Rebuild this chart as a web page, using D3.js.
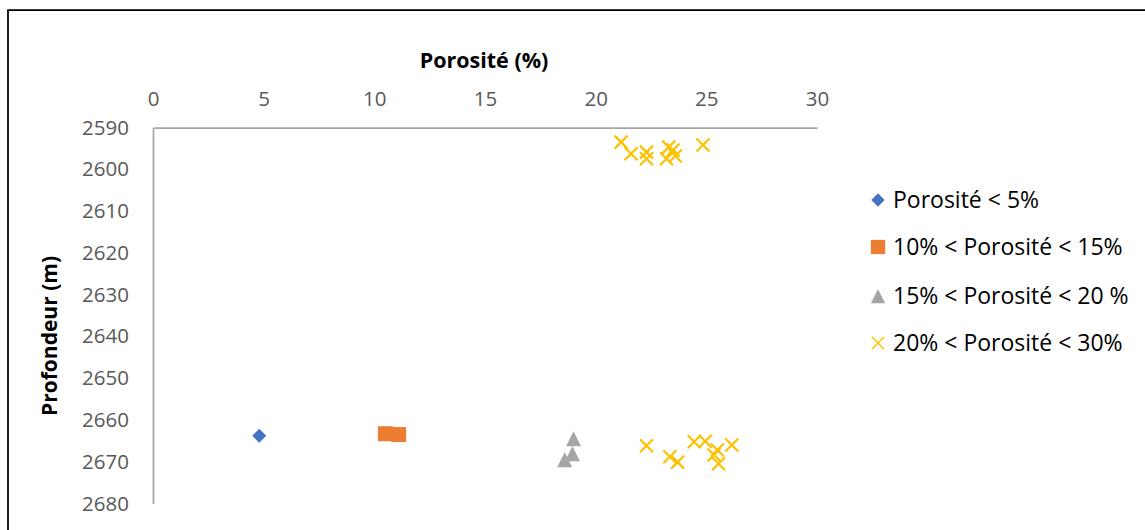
<!DOCTYPE html>
<html>
<head>
<meta charset="utf-8">
<script src="https://cdn.jsdelivr.net/npm/d3@7"></script>
<style>
  html, body { margin: 0; padding: 0; background: #fff; }
  svg { display: block; }
</style>
</head>
<body>
<svg id="chart" width="1145" height="530"></svg>
<script>
// ---- Data ----
const xTicks = [0, 5, 10, 15, 20, 25, 30];
const yTicks = [2590, 2600, 2610, 2620, 2630, 2640, 2650, 2660, 2670, 2680];

const seriesNames = ["Porosité < 5%", "10% < Porosité < 15%", "15% < Porosité < 20 %", "20% < Porosité < 30%"];
const seriesColors = ["#4472C4", "#ED7D31", "#A5A5A5", "#FFC000"];
const seriesShapes = ["diamond", "square", "triangle", "x"];

// [porosity %, depth m]
const s1 = [[4.8, 2663.8]];
const s2 = [[10.5, 2663.3], [11.1, 2663.5]];
const s3 = [[19.0, 2664.5], [18.95, 2668.1], [18.6, 2669.5]];
const s4 = [
  [21.15, 2593.5], [21.6, 2596.3], [22.3, 2595.9], [22.3, 2597.5],
  [23.3, 2594.7], [23.5, 2595.4], [23.2, 2597.5], [23.6, 2596.8], [24.85, 2594.2],
  [22.3, 2666.2], [23.35, 2668.8], [23.7, 2670.1], [24.45, 2665.2], [24.95, 2665.1],
  [25.5, 2667.2], [25.35, 2668.4], [25.55, 2670.5], [26.15, 2666.0]
];
const seriesData = [s1, s2, s3, s4];

// ---- Layout ----
const svg = d3.select("#chart");
const x = d3.scaleLinear().domain([0, 30]).range([153, 817]);
const y = d3.scaleLinear().domain([2590, 2680]).range([127.5, 503.5]);

const FONT = "'Open Sans', 'DejaVu Sans', sans-serif";

// outer chart border (left + top visible)
svg.append("path")
  .attr("d", "M8,540 L8,10 L1150,10")
  .attr("fill", "none").attr("stroke", "#000").attr("stroke-width", 1.75);

// axes
const xAxis = d3.axisTop(x).tickValues(xTicks).tickFormat(d3.format("d")).tickSize(0).tickPadding(22);
const yAxis = d3.axisLeft(y).tickValues(yTicks).tickFormat(d3.format("d")).tickSize(0).tickPadding(24);

const gx = svg.append("g").attr("transform", `translate(0,${y(2590)})`).call(xAxis);
const gy = svg.append("g").attr("transform", `translate(${x(0)},0)`).call(yAxis);

[gx, gy].forEach(g => {
  g.select(".domain").attr("stroke", "#A6A6A6").attr("stroke-width", 1.75);
  g.selectAll("text").attr("fill", "#595959").style("font-family", FONT).style("font-size", "20.5px");
});

// axis titles
svg.append("text")
  .attr("x", 484).attr("y", 68)
  .attr("text-anchor", "middle")
  .style("font-family", FONT).style("font-size", "21.5px").style("font-weight", "bold")
  .attr("fill", "#000").text("Porosité (%)");

svg.append("text")
  .attr("transform", `translate(57,336) rotate(-90)`)
  .attr("text-anchor", "middle")
  .style("font-family", FONT).style("font-size", "21px").style("font-weight", "bold")
  .attr("fill", "#000").text("Profondeur (m)");

// marker drawing
function drawMarker(g, shape, color, cx, cy, scale) {
  const s = scale || 1;
  if (shape === "diamond") {
    const r = 7 * s;
    g.append("path").attr("d", `M${cx},${cy - r}L${cx + r},${cy}L${cx},${cy + r}L${cx - r},${cy}Z`).attr("fill", color);
  } else if (shape === "square") {
    const h = 7.5 * s;
    g.append("rect").attr("x", cx - h).attr("y", cy - h).attr("width", 2 * h).attr("height", 2 * h).attr("fill", color);
  } else if (shape === "triangle") {
    const h = 7.5 * s;
    g.append("path").attr("d", `M${cx},${cy - h}L${cx + h},${cy + h}L${cx - h},${cy + h}Z`).attr("fill", color);
  } else if (shape === "x") {
    const h = 6.5 * s;
    g.append("path").attr("d", `M${cx - h},${cy - h}L${cx + h},${cy + h}M${cx - h},${cy + h}L${cx + h},${cy - h}`)
      .attr("stroke", color).attr("stroke-width", s < 1 ? 1.5 : 2.2).attr("fill", "none");
  }
}

// points
seriesData.forEach((data, i) => {
  const g = svg.append("g");
  data.forEach(d => drawMarker(g, seriesShapes[i], seriesColors[i], x(d[0]), y(d[1]), 1));
});

// legend
const legendY = [200, 247, 296, 343];
const lg = svg.append("g");
seriesNames.forEach((name, i) => {
  drawMarker(lg, seriesShapes[i], seriesColors[i], 878, legendY[i], 0.95);
  lg.append("text")
    .attr("x", 893).attr("y", legendY[i]).attr("dy", "0.35em")
    .style("font-family", FONT).style("font-size", "23px")
    .attr("fill", "#000").text(name);
});
</script>
</body>
</html>
